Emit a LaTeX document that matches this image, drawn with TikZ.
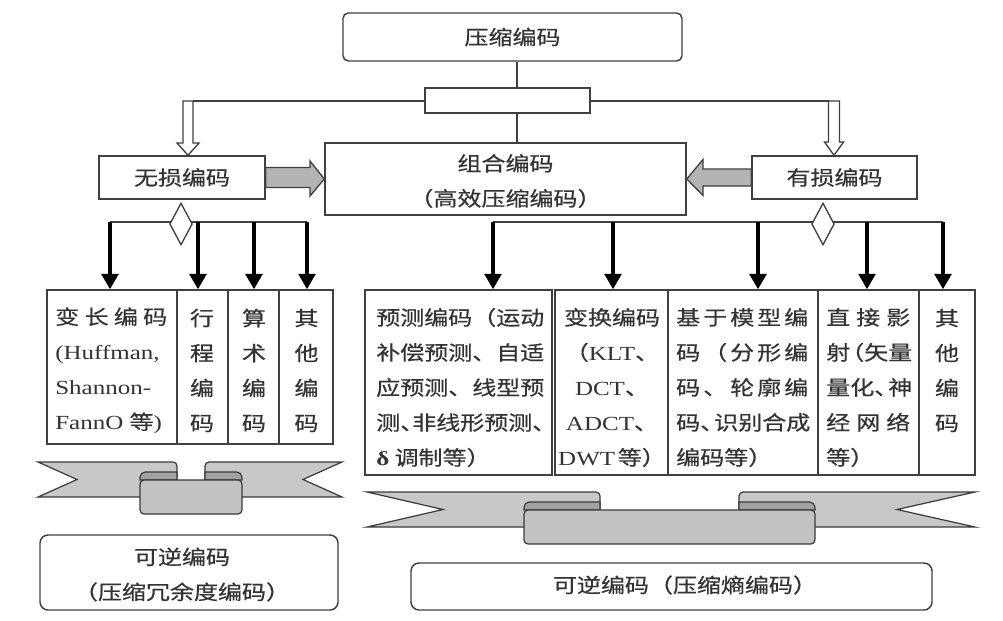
\documentclass[tikz,border=0pt]{standalone}
\usepackage{fontspec}
\setmainfont[FakeStretch=1.2]{Liberation Serif}
\newfontfamily\cjk[FakeStretch=1.2,FakeBold=0.5]{Noto Sans CJK SC}
\newfontfamily\latf[FakeStretch=1.25]{Liberation Serif}
\usetikzlibrary{shapes.geometric,arrows.meta,calc,fit}
\definecolor{lc}{HTML}{404040}
\definecolor{tc}{HTML}{333333}
\definecolor{agray}{HTML}{B4B4B4}
\definecolor{rtail}{HTML}{C8C8C8}
\definecolor{rfold}{HTML}{A2A2A2}
\definecolor{rband}{HTML}{C2C2C2}
\definecolor{rline}{HTML}{3A3A3A}
\newcommand\jl[2]{\makebox[#1][s]{#2}}
% #1 xl, #2 xnl, #3 band left, #4 tail end left, #5 tail end right, #6 band right, #7 xnr, #8 xr, #9 top
\newcommand\ribbon[9]{%
\draw[rtailst] (#1,#9) -- ({#4-6},#9) [rounded corners=3pt] -- (#4,#9) -- (#4,{#9+8}) [sharp corners] -- (#4,{#9+35}) -- (#1,{#9+35}) -- (#2,{#9+17.5}) -- cycle;
\draw[rtailst] (#8,#9) -- ({#5+6},#9) [rounded corners=3pt] -- (#5,#9) -- (#5,{#9+8}) [sharp corners] -- (#5,{#9+35}) -- (#8,{#9+35}) -- (#7,{#9+17.5}) -- cycle;
\draw[rfoldst] (#4,{#9+18}) -- (#4,{#9+10}) [rounded corners=4pt] -- (#3,{#9+10}) [sharp corners] -- (#3,{#9+18}) -- cycle;
\draw[rfoldst] (#5,{#9+18}) -- (#5,{#9+10}) [rounded corners=4pt] -- (#6,{#9+10}) [sharp corners] -- (#6,{#9+18}) -- cycle;
\draw[rbandst, rounded corners=3pt] (#3,{#9+18}) rectangle (#6,{#9+52});
}
\begin{document}
\begin{tikzpicture}[x=0.75pt,y=-0.75pt,
  box/.style={draw=lc, line width=1.1pt, fill=white, inner sep=0pt},
  txt/.style={font=\cjk\fontsize{15}{26.25}\selectfont, text=tc, inner sep=0pt},
  ln/.style={draw=lc, line width=1.1pt},
  thickarr/.style={draw=black, line width=2.6pt, -{Triangle[width=12.5pt,length=11.5pt]}},
  hollow/.style={draw=lc, line width=1pt, fill=white, line join=miter},
  grayarr/.style={draw=lc, line width=1pt, fill=agray},
  dia/.style={diamond, draw=lc, line width=1pt, fill=white, inner sep=0pt, minimum width=17pt, minimum height=31.5pt},
  rtailst/.style={draw=rline, line width=0.9pt, fill=rtail},
  rfoldst/.style={draw=rline, line width=0.9pt, fill=rfold},
  rbandst/.style={draw=rline, line width=0.9pt, fill=rband}
]
\useasboundingbox (0,0) rectangle (1003,621);
\fill[white] (0,0) rectangle (1003,621);

% top part
\node[box, rounded corners=4pt, fit={(343,13) (682,61)}] (top) {};
\node[txt] (ttop) at (top.center) {压缩编码};
\node[box, fit={(425,88) (590,113)}] (bar) {};
\node[box, fit={(325,143) (686,215)}] (comb) {};
\node[txt, align=center] (tcomb) at ($(comb.center)+(0,2)$) {组合编码\\（高效压缩编码）};
\node[box, fit={(99,156) (265,199)}] (lossless) {};
\node[txt] (tlossless) at (lossless.center) {无损编码};
\node[box, fit={(752,156) (917,199)}] (lossy) {};
\node[txt] (tlossy) at (lossy.center) {有损编码};

\coordinate (jx) at (517,0);
\draw[ln] (top.south -| jx) -- (bar.north -| jx);
\draw[ln] (bar.south -| jx) -- (comb.north -| jx);

% hollow arrows
\coordinate (hl) at (188,101);
\draw[ln] (bar.west |- hl) -- ($(hl)+(5,0)$);
\draw[hollow] ($(hl)+(-5,0)$) -- ++(10,0) -- ++(0,42) -- ++(6,0) -- (lossless.north -| hl) -- ($(hl)+(-11,42)$) -- ++(6,0) -- cycle;
\coordinate (hr) at (834,101);
\draw[ln] (bar.east |- hr) -- ($(hr)+(-5.5,0)$);
\draw[hollow] ($(hr)+(-5.5,0)$) -- ++(11,0) -- ++(0,41) -- ++(4,0) -- (lossy.north -| hr) -- ($(hr)+(-9.5,41)$) -- ++(4,0) -- cycle;

% gray block arrows
\draw[grayarr] ($(lossless.east)+(0,-10)$) -- (310,167.5) -- (310,161) -- (comb.west) -- (310,196) -- (310,187.5) -- ($(lossless.east)+(0,10)$) -- cycle;
\draw[grayarr] ($(lossy.west)+(0,-8.5)$) -- (703,169) -- (703,159.5) -- (comb.east) -- (703,195.5) -- (703,186) -- ($(lossy.west)+(0,8.5)$) -- cycle;

% left group boxes
\node[box, fit={(47,290) (177,444)}] (L1) {};
\node[box, fit={(177,290) (228,444)}] (L2) {};
\node[box, fit={(228,290) (279,444)}] (L3) {};
\node[box, fit={(279,290) (333,444)}] (L4) {};

% right group boxes
\node[box, fit={(365,290) (552,475)}] (R1) {};
\node[box, fit={(555,290) (668,475)}] (R2) {};
\node[box, fit={(668,290) (818,475)}] (R3) {};
\node[box, fit={(818,290) (919,475)}] (R4) {};
\node[box, fit={(919,290) (975,475)}] (R5) {};

% left branch
\coordinate (la) at (110,222);
\coordinate (lb) at (307,222);
\coordinate (lc2) at (198,222);
\coordinate (lc3) at (254,222);
\draw[ln] (la) -- (lb);
\node[dia] (d1) at (181,224) {};
\draw[thickarr] (la) -- (la |- L1.north);
\draw[thickarr] (lc2) -- (lc2 |- L2.north);
\draw[thickarr] (lc3) -- (lc3 |- L3.north);
\draw[thickarr] (lb) -- (lb |- L4.north);

% right branch
\coordinate (ra) at (493,222);
\coordinate (rc2) at (613,222);
\coordinate (rc3) at (758,222);
\coordinate (rc4) at (867,222);
\coordinate (rb) at (943,222);
\draw[ln] (ra) -- (rb);
\node[dia] (d2) at (823,224) {};
\draw[thickarr] (ra) -- (ra |- R1.north);
\draw[thickarr] (rc2) -- (rc2 |- R2.north);
\draw[thickarr] (rc3) -- (rc3 |- R3.north);
\draw[thickarr] (rc4) -- (rc4 |- R4.north);
\draw[thickarr] (rb) -- (rb |- R5.north);

% texts in left boxes
\node[txt, align=left, anchor=west] (tL1) at (55,370.5) {\jl{84pt}{变\hfil 长\hfil 编\hfil 码}\\{\latf (Huffman,}\\{\latf Shannon-}\\{\latf FannO }等{\latf )}};
\node[txt, align=center] (tL2) at (202,370.5) {行\\程\\编\\码};
\node[txt, align=center] (tL3) at (254,370.5) {算\\术\\编\\码};
\node[txt, align=center] (tL4) at (306.5,370.5) {其\\他\\编\\码};

% texts in right boxes
\node[txt, align=left, anchor=west] (tR1) at (376,387.5) {预测编码（运动\\补偿预测、自适\\应预测、线型预\\测、\kern-0.6em 非线形预测、\\{\latf\bfseries δ} 调制等）};
\node[txt, align=center] (tR2) at (612,387.5) {变换编码\\（{\latf KLT}、\\{\latf DCT}、\\{\latf ADCT}、\\{\latf DWT}\kern2pt 等）};
\node[txt, align=left, anchor=west] (tR3) at (676,387.5) {\jl{99pt}{基\hfil 于\hfil 模\hfil 型\hfil 编}\\\jl{99pt}{码\hfil （\hfil 分\hfil 形\hfil 编}\\\jl{99pt}{码\hfil 、\hfil 轮\hfil 廓\hfil 编}\\码、\kern-0.5em 识别合成\\编码等）};
\node[txt, align=left, anchor=west] (tR4) at (826,387.5) {\jl{63pt}{直\hfil 接\hfil 影}\\射\kern-0.5em（矢量\\量化、\kern-0.5em 神\\\jl{63pt}{经\hfil 网\hfil 络}\\等）};
\node[txt, align=center] (tR5) at (947,370.5) {其\\他\\编\\码};

% ribbons
\ribbon{38}{77}{140}{177}{205}{242}{303}{342}{462}
\ribbon{367}{443}{524}{600}{739}{815}{897}{975}{492}

% bottom boxes
\node[box, rounded corners=6pt, fit={(40,535) (338,610)}] (BL) {};
\node[txt, align=center] (tBL) at (182,574.5) {可逆编码\\（压缩冗余度编码）};
\node[box, rounded corners=6pt, fit={(411,563) (932,610)}] (BR) {};
\node[txt] (tBR) at (685,585) {可逆编码（压缩熵编码）};
\end{tikzpicture}
\end{document}
